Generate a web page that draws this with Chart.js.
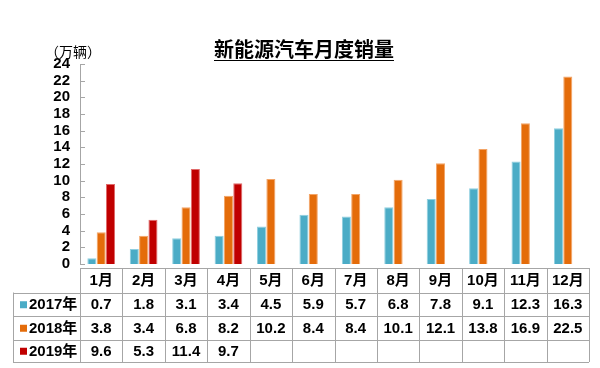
<!DOCTYPE html>
<html>
<head>
<meta charset="utf-8">
<script src="https://cdn.jsdelivr.net/npm/chart.js@4"></script>
<style>
  html, body { margin: 0; padding: 0; background: #fff; }
  #wrap { width: 600px; height: 368px; }
</style>
</head>
<body>
<div id="wrap"><canvas id="grafico" width="600" height="368"></canvas></div>
<script>
const meses = ['1月', '2月', '3月', '4月', '5月', '6月', '7月', '8月', '9月', '10月', '11月', '12月'];
const anos = ['2017年', '2018年', '2019年'];
const vendas2017 = [0.7, 1.8, 3.1, 3.4, 4.5, 5.9, 5.7, 6.8, 7.8, 9.1, 12.3, 16.3];
const vendas2018 = [3.8, 3.4, 6.8, 8.2, 10.2, 8.4, 8.4, 10.1, 12.1, 13.8, 16.9, 22.5];
const vendas2019 = [9.6, 5.3, 11.4, 9.7];
const cores = ['#4bacc6', '#e46c0a', '#c00000'];
const bordas = ['#8fcfe0', '#f3a466', '#e06a6a'];

const titulo = '新能源汽车月度销量';
const unidade = '（万辆）';
const fonteNum = 'bold 15px "Liberation Sans", "Noto Sans CJK SC", sans-serif';

// titulo, marcas do eixo y e tabela de dados
const extras = {
  id: 'extras',
  afterDraw(chart) {
    const ctx = chart.ctx;
    const area = chart.chartArea;
    const x = chart.scales.x;
    const y = chart.scales.y;
    ctx.save();

    // titulo sublinhado
    ctx.font = 'bold 20px "Noto Sans CJK SC", sans-serif';
    ctx.fillStyle = '#000';
    ctx.textAlign = 'center';
    ctx.textBaseline = 'middle';
    ctx.fillText(titulo, 304, 49);
    const w = ctx.measureText(titulo).width;
    ctx.strokeStyle = '#000';
    ctx.lineWidth = 1.2;
    ctx.beginPath();
    ctx.moveTo(304 - w / 2, 60.5);
    ctx.lineTo(304 + w / 2, 60.5);
    ctx.stroke();

    // unidade
    ctx.font = '14px "Noto Sans CJK SC", sans-serif';
    ctx.textAlign = 'left';
    ctx.fillText(unidade, 45, 52);

    // marcas para dentro
    ctx.strokeStyle = '#a6a6a6';
    ctx.lineWidth = 1;
    y.ticks.forEach(t => {
      const py = Math.round(y.getPixelForValue(t.value)) + 0.5;
      ctx.beginPath();
      ctx.moveTo(area.left, py);
      ctx.lineTo(area.left + 5, py);
      ctx.stroke();
    });

    // tabela
    const topo = 268;
    const alturas = [24.5, 23.5, 23.5, 22.5];
    const linhas = [topo];
    alturas.forEach(h => linhas.push(linhas[linhas.length - 1] + h));
    const larg = x.getPixelForValue(1) - x.getPixelForValue(0);
    const esq = 13;
    const colunas = [];
    meses.forEach((m, i) => colunas.push(x.getPixelForValue(i) - larg / 2));
    colunas.push(x.getPixelForValue(meses.length - 1) + larg / 2);
    const dir = colunas[colunas.length - 1];

    ctx.strokeStyle = '#a6a6a6';
    ctx.lineWidth = 1;
    ctx.beginPath();
    // horizontais
    linhas.forEach((ly, i) => {
      const yy = Math.round(ly) + 0.5;
      ctx.moveTo(i === 0 ? colunas[0] : esq, yy);
      ctx.lineTo(dir, yy);
    });
    // verticais
    colunas.forEach(cx => {
      const xx = Math.round(cx) + 0.5;
      ctx.moveTo(xx, linhas[0]);
      ctx.lineTo(xx, linhas[4]);
    });
    ctx.moveTo(esq + 0.5, linhas[1]);
    ctx.lineTo(esq + 0.5, linhas[4]);
    ctx.stroke();

    ctx.fillStyle = '#000';
    ctx.font = fonteNum;
    ctx.textAlign = 'center';
    ctx.textBaseline = 'middle';
    meses.forEach((m, i) => {
      ctx.fillText(m, x.getPixelForValue(i), (linhas[0] + linhas[1]) / 2 + 1);
    });
    const series = [vendas2017, vendas2018, vendas2019];
    series.forEach((s, r) => {
      const cy = (linhas[r + 1] + linhas[r + 2]) / 2 + 1;
      ctx.fillStyle = cores[r];
      ctx.fillRect(20, cy - 4, 7, 7);
      ctx.fillStyle = '#000';
      ctx.textAlign = 'left';
      ctx.fillText(anos[r], 29, cy);
      ctx.textAlign = 'center';
      s.forEach((v, i) => {
        ctx.fillText(v.toFixed(1), x.getPixelForValue(i), cy);
      });
    });
    ctx.restore();
  }
};

const ctx = document.getElementById('grafico').getContext('2d');
const chart = new Chart(ctx, {
  type: 'bar',
  data: {
    labels: meses,
    datasets: [vendas2017, vendas2018, vendas2019].map((d, i) => ({
      label: anos[i],
      data: d,
      backgroundColor: cores[i],
      borderColor: bordas[i],
      borderWidth: 1,
      categoryPercentage: 0.66,
      barPercentage: 0.97
    }))
  },
  options: {
    responsive: false,
    animation: false,
    layout: { padding: { left: 0, top: 64, right: 11, bottom: 104 } },
    plugins: {
      legend: { display: false },
      title: { display: false },
      tooltip: { enabled: false }
    },
    scales: {
      x: {
        grid: { display: false, drawTicks: false },
        border: { display: false },
        ticks: { display: false },
        afterFit: s => { s.height = 0; }
      },
      y: {
        min: 0,
        max: 24,
        ticks: {
          stepSize: 2,
          autoSkip: false,
          padding: 10,
          color: '#000',
          font: { family: '"Liberation Sans", Arial, sans-serif', size: 15, weight: 'bold' }
        },
        grid: { display: false, drawTicks: false },
        border: { display: true, color: '#a6a6a6', width: 1 },
        afterFit: s => { s.width = 80; }
      }
    }
  },
  plugins: [extras]
});
</script>
</body>
</html>
